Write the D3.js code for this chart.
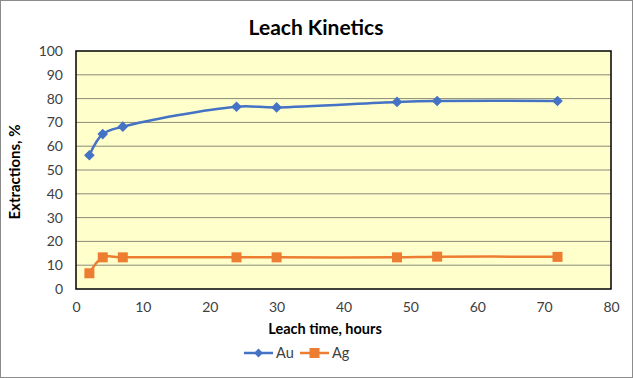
<!DOCTYPE html>
<html><head><meta charset="utf-8">
<script src="https://cdn.jsdelivr.net/npm/d3@7"></script>
<style>
html,body{margin:0;padding:0;background:#fff;}
svg{display:block;font-family:Lato,"Open Sans",sans-serif;}
</style></head>
<body><svg id="c" width="633" height="378"></svg>
<script>
const hours = [2, 4, 7, 24, 30, 48, 54, 72];
const auValues = [56.2, 65.1, 68.2, 76.6, 76.3, 78.6, 79.0, 79.0];
const agValues = [6.6, 13.3, 13.3, 13.3, 13.3, 13.3, 13.6, 13.5];
const xTicks = [0, 10, 20, 30, 40, 50, 60, 70, 80];
const yTicks = [0, 10, 20, 30, 40, 50, 60, 70, 80, 90, 100];
const seriesNames = ["Au", "Ag"];
const seriesColors = ["#4472C4", "#ED7D31"];

const svg = d3.select("#c");
const W = 633, H = 378;
const m = {left: 76, right: 611, top: 51, bottom: 289};

svg.append("rect").attr("x",0.5).attr("y",0.5).attr("width",W-1).attr("height",H-1)
  .attr("fill","#fff").attr("stroke","#8c8c8c");

const x = d3.scaleLinear().domain([0,80]).range([m.left, m.right]);
const y = d3.scaleLinear().domain([0,100]).range([m.bottom, m.top]);

svg.append("rect").attr("x",m.left).attr("y",m.top).attr("width",m.right-m.left).attr("height",m.bottom-m.top)
  .attr("fill","#FFFFCC");

svg.append("g").selectAll("line").data(yTicks.filter(d=>d>0 && d<100)).join("line")
  .attr("x1",m.left).attr("x2",m.right).attr("y1",d=>y(d)).attr("y2",d=>y(d))
  .attr("stroke","#8a8a7a").attr("stroke-width",1);

const yAxis = d3.axisLeft(y).tickValues(yTicks).tickSize(0).tickPadding(13);
const gy = svg.append("g").attr("transform",`translate(${m.left},0)`).call(yAxis);
gy.select(".domain").remove();
gy.selectAll("text").attr("font-size",14).attr("fill","#404040").attr("font-family","Lato, sans-serif");

const xAxis = d3.axisBottom(x).tickValues(xTicks).tickSize(0).tickPadding(13);
const gx = svg.append("g").attr("transform",`translate(0,${m.bottom})`).call(xAxis);
gx.select(".domain").remove();
gx.selectAll("text").attr("font-size",14).attr("fill","#404040").attr("font-family","Lato, sans-serif");

svg.append("rect").attr("x",m.left).attr("y",m.top).attr("width",m.right-m.left).attr("height",m.bottom-m.top)
  .attr("fill","none").attr("stroke","#000").attr("stroke-width",1.5);

const line = d3.line().x(d=>x(d[0])).y(d=>y(d[1])).curve(d3.curveCatmullRom.alpha(0.5));
const series = [auValues, agValues];
series.forEach((vals,i)=>{
  const pts = hours.map((h,j)=>[h, vals[j]]);
  svg.append("path").datum(pts).attr("d",line).attr("fill","none")
    .attr("stroke",seriesColors[i]).attr("stroke-width",2.5);
  const g = svg.append("g");
  if(i===0){
    g.selectAll("path").data(pts).join("path")
      .attr("d",d3.symbol(d3.symbolDiamond2, 72))
      .attr("transform",d=>`translate(${x(d[0])},${y(d[1])})`)
      .attr("fill",seriesColors[i]);
  } else {
    g.selectAll("rect").data(pts).join("rect")
      .attr("x",d=>x(d[0])-5).attr("y",d=>y(d[1])-5).attr("width",10).attr("height",10)
      .attr("fill",seriesColors[i]);
  }
});

svg.append("text").attr("x",316).attr("y",35).attr("text-anchor","middle")
  .attr("font-size",21).attr("font-weight","bold").attr("fill","#000").text("Leach Kinetics");
svg.append("text").attr("x",325).attr("y",334).attr("text-anchor","middle")
  .attr("font-size",14.5).attr("font-weight","bold").attr("fill","#000").text("Leach time, hours");
svg.append("text").attr("transform","translate(20,172) rotate(-90)").attr("text-anchor","middle")
  .attr("font-size",15).attr("font-weight","bold").attr("fill","#000").text("Extractions, %");

const lx = [244, 300];
seriesNames.forEach((n,i)=>{
  const g = svg.append("g");
  const ly = 353;
  g.append("line").attr("x1",lx[i]).attr("x2",lx[i]+29).attr("y1",ly).attr("y2",ly)
    .attr("stroke",seriesColors[i]).attr("stroke-width",2.5);
  if(i===0){
    g.append("path").attr("d",d3.symbol(d3.symbolDiamond2, 50))
      .attr("transform",`translate(${lx[i]+14.5},${ly})`).attr("fill",seriesColors[i]);
  } else {
    g.append("rect").attr("x",lx[i]+9.5).attr("y",ly-5).attr("width",10).attr("height",10).attr("fill",seriesColors[i]);
  }
  g.append("text").attr("x",lx[i]+32).attr("y",ly+5).attr("font-size",14.5).attr("fill","#404040").text(n);
});
</script></body></html>
